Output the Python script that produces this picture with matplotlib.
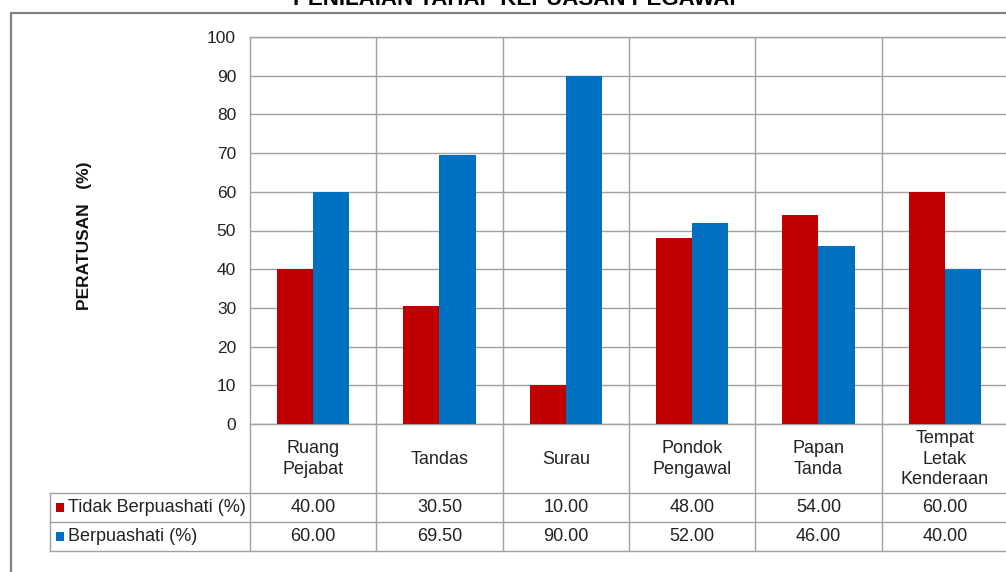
import matplotlib
matplotlib.use("Agg")
import matplotlib.pyplot as plt
import matplotlib.transforms as mtransforms
from matplotlib.lines import Line2D
from matplotlib.patches import Rectangle

plt.rcParams['font.family'] = ['Liberation Sans', 'DejaVu Sans']

title = "PENILAIAN TAHAP KEPUASAN PEGAWAI"
ylabel = "PERATUSAN   (%)"
categories = ["Ruang\nPejabat", "Tandas", "Surau", "Pondok\nPengawal", "Papan\nTanda",
              "Tempat\nLetak\nKenderaan"]
series_names = ["Tidak Berpuashati (%)", "Berpuashati (%)"]
tidak = [40.00, 30.50, 10.00, 48.00, 54.00, 60.00]
puas = [60.00, 69.50, 90.00, 52.00, 46.00, 40.00]
colors = ["#C00000", "#0070C0"]
yticks = [0, 10, 20, 30, 40, 50, 60, 70, 80, 90, 100]

W, H = 1006, 572
fig = plt.figure(figsize=(W / 100, H / 100), dpi=100)


def fx(p):
    return p / W


def fy(p):
    return 1 - p / H


GRID = "#A0A0A0"
TXT = "#222222"
FS = 13
ax_left, ax_right, ax_top, ax_bot = 250, 1008, 37, 424
ax = fig.add_axes([fx(ax_left), fy(ax_bot), fx(ax_right) - fx(ax_left), fy(ax_top) - fy(ax_bot)])
n = len(categories)
ax.set_xlim(-0.5, n - 0.5)
ax.set_ylim(0, 100)
bw = 0.285
xs = list(range(n))
ax.bar([x - bw / 2 for x in xs], tidak, width=bw, color=colors[0], zorder=3)
ax.bar([x + bw / 2 for x in xs], puas, width=bw, color=colors[1], zorder=3)
ax.set_yticks(yticks)
ax.set_yticklabels([str(v) for v in yticks], fontsize=12.5, color=TXT)
ax.tick_params(axis='y', length=0, pad=10)
ax.set_xticks([])
ax.yaxis.grid(True, color=GRID, linewidth=1.0, zorder=0)
for s in ax.spines.values():
    s.set_color(GRID)
    s.set_linewidth(1.0)
for b in [i + 0.5 for i in range(n - 1)]:
    ax.axvline(b, color=GRID, linewidth=1.0, zorder=1)

# table below plot
tr = mtransforms.blended_transform_factory(ax.transData, fig.transFigure)
px_per_cat = (ax_right - ax_left) / n
legend_left_x = -0.5 - (ax_left - 50) / px_per_cat
right_x = n - 0.5
row_tops = [424, 493, 522, 551]

for b in [i - 0.5 for i in range(n + 1)]:
    fig.add_artist(Line2D([b, b], [fy(424), fy(551)], transform=tr, color=GRID, linewidth=1.0))
fig.add_artist(Line2D([legend_left_x, legend_left_x], [fy(493), fy(551)], transform=tr,
                      color=GRID, linewidth=1.0))
for yy in row_tops[1:]:
    fig.add_artist(Line2D([legend_left_x, right_x], [fy(yy), fy(yy)], transform=tr,
                          color=GRID, linewidth=1.0))

for i, c in enumerate(categories):
    fig.text(i, fy(459), c, transform=tr, ha='center', va='center', fontsize=FS,
             color=TXT, linespacing=1.26)

row_centers = [507.5, 536.5]
for r, (vals, name, col) in enumerate(zip([tidak, puas], series_names, colors)):
    yc = row_centers[r]
    for i, v in enumerate(vals):
        fig.text(i, fy(yc), f"{v:.2f}", transform=tr, ha='center', va='center',
                 fontsize=FS, color=TXT)
    fig.add_artist(Rectangle((fx(56), fy(yc + 4.5)), fx(8), 9 / H, transform=fig.transFigure,
                             facecolor=col, edgecolor='none'))
    fig.text(fx(68), fy(yc), name, ha='left', va='center', fontsize=FS, color=TXT)

# y label
fig.text(fx(85), fy(236), ylabel, rotation=90, ha='center', va='center', fontsize=12.5,
         fontweight='bold', color="#111111")

# outer chart frame (cropped)
fig.add_artist(Line2D([fx(11), fx(11), 1.01], [0, fy(13), fy(13)], transform=fig.transFigure,
                      color="#808080", linewidth=1.6))

# title (cropped at top, as in the reference)
fig.text(fx(514), fy(5), title, ha='center', va='baseline', fontsize=16, fontweight='bold',
         color="#000000")

fig.savefig("out.png", dpi=100)
